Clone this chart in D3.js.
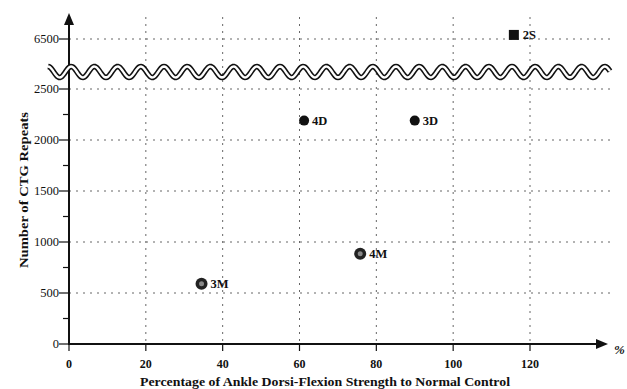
<!DOCTYPE html>
<html><head><meta charset="utf-8">
<script src="https://cdn.jsdelivr.net/npm/d3@7"></script>
<style>body{margin:0;background:#fff}svg{display:block}text{font-family:"Liberation Serif","DejaVu Serif",serif;fill:#111}</style>
</head><body><svg id="c" width="627" height="389"></svg>
<script>
const labels = ["3M","4M","4D","3D","2S"];
const strength = [34.5, 75.8, 61.2, 90.0, 115.8];
const repeats = [590, 885, 2190, 2190, 6540];
const shapes = ["ring","ring","dot","dot","square"];
const xTicks = [0,20,40,60,80,100,120];
const yTicks = [0,500,1000,1500,2000,2500,6500];
const yMinor = [250,750,1250,1750,2250];

const svg = d3.select("#c");
const x = d3.scaleLinear().domain([0,120]).range([69,530]);
const y = d3.scaleLinear().domain([0,2500,6250,7000]).range([344,89,64.5,-12]);
const X0 = x(0), Y0 = y(0), xEnd = 608, yTop = 13;

// grid
const g = svg.append("g").attr("stroke","#666").attr("stroke-width",1).attr("stroke-dasharray","2,5");
xTicks.filter(d=>d>0).forEach(d=>g.append("line").attr("x1",x(d)).attr("x2",x(d)).attr("y1",yTop+4).attr("y2",Y0));
yTicks.filter(d=>d>0).forEach(d=>g.append("line").attr("x1",X0).attr("x2",613).attr("y1",y(d)).attr("y2",y(d)));

// axes lines
svg.append("line").attr("x1",X0).attr("x2",xEnd-8).attr("y1",Y0).attr("y2",Y0).attr("stroke","#111").attr("stroke-width",2);
svg.append("path").attr("d",`M${xEnd},${Y0} L${xEnd-12},${Y0-5} L${xEnd-12},${Y0+5} Z`).attr("fill","#111");
svg.append("line").attr("x1",X0).attr("x2",X0).attr("y1",Y0+1).attr("y2",yTop+8).attr("stroke","#111").attr("stroke-width",2);
svg.append("path").attr("d",`M${X0},${yTop} L${X0-5},${yTop+12} L${X0+5},${yTop+12} Z`).attr("fill","#111");

// y ticks
yTicks.forEach(d=>{
  svg.append("line").attr("x1",X0-10).attr("x2",X0).attr("y1",y(d)).attr("y2",y(d)).attr("stroke","#111").attr("stroke-width",1.2);
  svg.append("text").attr("x",X0-10).attr("y",y(d)+4).attr("text-anchor","end").attr("font-size",12.5).text(d);
});
yMinor.forEach(d=>svg.append("line").attr("x1",X0-6).attr("x2",X0).attr("y1",y(d)).attr("y2",y(d)).attr("stroke","#111").attr("stroke-width",1.2));
// x ticks
xTicks.forEach(d=>{
  svg.append("line").attr("x1",x(d)).attr("x2",x(d)).attr("y1",Y0).attr("y2",Y0+7).attr("stroke","#111").attr("stroke-width",1.2);
  svg.append("text").attr("x",x(d)).attr("y",Y0+24).attr("text-anchor","middle").attr("font-size",12).attr("font-weight","bold").text(d);
});
svg.append("text").attr("x",614).attr("y",Y0+10).attr("font-size",13).attr("font-style","italic").attr("font-weight","bold").text("%");

// break wave
const wy = 72, amp = 5.5, per = 23.2, wx0 = 48, wx1 = 610;
const pts = d3.range(wx0, wx1+0.5, 1).map(px => [px, wy + amp*Math.cos((px-wx0)/per*2*Math.PI + Math.PI)]);
const line = d3.line();
svg.append("path").attr("d",line(pts)).attr("fill","none").attr("stroke","#111").attr("stroke-width",5.5);
svg.append("path").attr("d",line(pts)).attr("fill","none").attr("stroke","#fff").attr("stroke-width",2.4);

// points
labels.forEach((l,i)=>{
  const cx = x(strength[i]), cy = y(repeats[i]);
  if (shapes[i]==="square") {
    svg.append("rect").attr("x",cx-5).attr("y",cy-5).attr("width",10).attr("height",10).attr("fill","#111");
  } else if (shapes[i]==="ring") {
    svg.append("circle").attr("cx",cx).attr("cy",cy).attr("r",6).attr("fill","#222");
    svg.append("circle").attr("cx",cx).attr("cy",cy).attr("r",2.5).attr("fill","#888");
  } else {
    svg.append("circle").attr("cx",cx).attr("cy",cy).attr("r",5).attr("fill","#111");
  }
  svg.append("text").attr("x",cx+(shapes[i]==="dot"?8:9)).attr("y",cy+4).attr("font-size",12.5).attr("font-weight","bold").text(l);
});

// titles
svg.append("text").attr("transform",`translate(28,190) rotate(-90)`).attr("text-anchor","middle").attr("font-size",12.5).attr("font-weight","bold")
  .attr("textLength",156).attr("lengthAdjust","spacingAndGlyphs").text("Number of CTG Repeats");
svg.append("text").attr("x",325).attr("y",386).attr("text-anchor","middle").attr("font-size",12.5).attr("font-weight","bold")
  .attr("textLength",370).attr("lengthAdjust","spacingAndGlyphs").text("Percentage of Ankle Dorsi-Flexion Strength to Normal Control");
</script></body></html>
